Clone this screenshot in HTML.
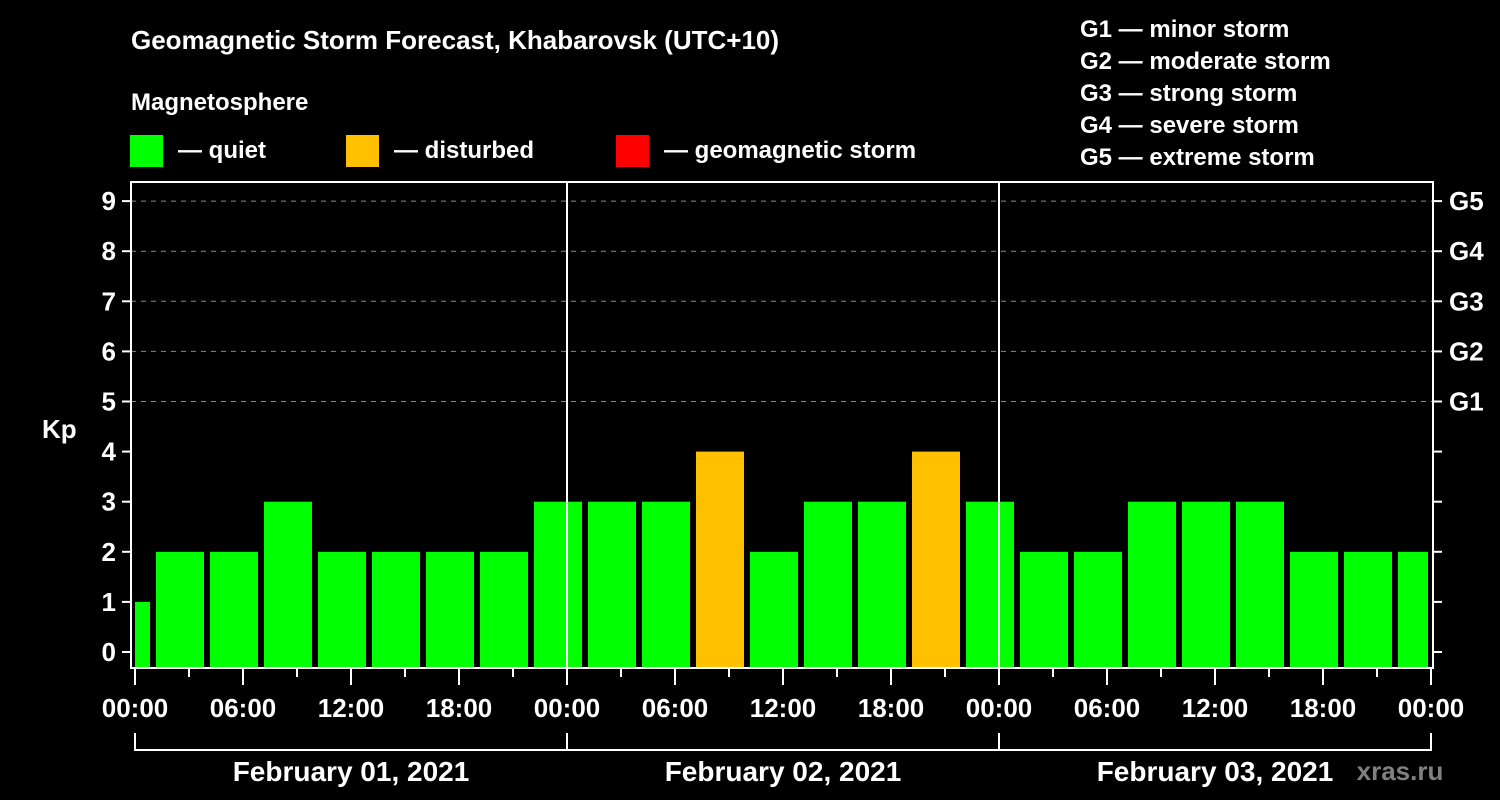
<!DOCTYPE html>
<html><head><meta charset="utf-8"><style>
html,body{margin:0;padding:0;background:#000;}
svg{display:block;font-family:"Liberation Sans",Arial,sans-serif;font-weight:bold;}
</style></head><body>
<svg id="chart" width="1500" height="800" viewBox="0 0 1500 800">
<rect width="1500" height="800" fill="#000"/>
<text x="131" y="49" fill="#fff" font-size="26">Geomagnetic Storm Forecast, Khabarovsk (UTC+10)</text>
<text x="131" y="110" fill="#fff" font-size="24">Magnetosphere</text>
<g><rect x="130" y="135" width="33" height="32" fill="#00ff00"/><text x="178" y="158" fill="#fff" font-size="24">— quiet</text></g>
<g><rect x="346" y="135" width="33" height="32" fill="#ffc000"/><text x="394" y="158" fill="#fff" font-size="24">— disturbed</text></g>
<g><rect x="616" y="135" width="33" height="32" fill="#ff0000"/><text x="664" y="158" fill="#fff" font-size="24">— geomagnetic storm</text></g>
<g fill="#fff" font-size="24">
<text x="1080" y="37">G1 — minor storm</text>
<text x="1080" y="69">G2 — moderate storm</text>
<text x="1080" y="101">G3 — strong storm</text>
<text x="1080" y="133">G4 — severe storm</text>
<text x="1080" y="165">G5 — extreme storm</text>
</g>
<text x="42" y="438" fill="#fff" font-size="26">Kp</text>
<text x="1400" y="780" fill="#808080" font-size="26" text-anchor="middle">xras.ru</text>
<g id="grid"></g><g id="bars"></g><g id="axes"></g>
</svg>
<script>
const slotStartHours=[-2,1,4,7,10,13,16,19,22,25,28,31,34,37,40,43,46,49,52,55,58,61,64,67,70];
const kpValues=[1,2,2,3,2,2,2,2,3,3,3,4,2,3,3,4,3,2,2,3,3,3,2,2,2];
const yTicks=[0,1,2,3,4,5,6,7,8,9];
const gLabels=["","","","","","G1","G2","G3","G4","G5"];
const xTickLabels=["00:00","06:00","12:00","18:00","00:00","06:00","12:00","18:00","00:00","06:00","12:00","18:00","00:00"];
const dayLabels=["February 01, 2021","February 02, 2021","February 03, 2021"];
const NS="http://www.w3.org/2000/svg";
const L=131,R=1433,T=182,B=668,X0=135,PXH=18;
const x=h=>X0+h*PXH, y=v=>652-v*50.1;
function mk(tag,attrs,parent,txt){const e=document.createElementNS(NS,tag);for(const k in attrs)e.setAttribute(k,attrs[k]);if(txt!=null)e.textContent=txt;document.getElementById(parent).appendChild(e);return e;}
yTicks.forEach((v,i)=>{
 if(v>=5){const g=mk('line',{x1:L,x2:R,y1:y(v),y2:y(v),stroke:'#888','stroke-dasharray':'5,5','stroke-width':1},'grid');
 
 }
 const t1=mk('line',{x1:122,x2:L,y1:y(v),y2:y(v),stroke:'#fff','stroke-width':2},'axes');
 
 
 const t2=mk('line',{x1:R,x2:1442,y1:y(v),y2:y(v),stroke:'#fff','stroke-width':2},'axes');
 
 
 const lb=mk('text',{x:116,y:y(v)+9,fill:'#fff','font-size':26,'text-anchor':'end'},'axes',String(v));
 
 
 if(gLabels[i]){const g2=mk('text',{x:1449,y:y(v)+9,fill:'#fff','font-size':26},'axes',gLabels[i]);
 
 }
});
kpValues.forEach((v,i)=>{
 let a=Math.max(x(slotStartHours[i])+3,L+4), b=Math.min(x(slotStartHours[i]+3)-3,R-5);
 const col=v>=5?'#ff0000':(v>=4?'#ffc000':'#00ff00');
 const r=mk('rect',{x:a,y:y(v),width:b-a,height:B-y(v),fill:col},'bars');
 
 
});
[1,2].forEach(d=>{const l=mk('line',{x1:x(d*24),x2:x(d*24),y1:T,y2:B,stroke:'#fff','stroke-width':2},'axes');
 
 });
const fr=mk('rect',{x:L,y:T,width:R-L,height:B-T,fill:'none',stroke:'#fff','stroke-width':2},'axes');


for(let h=0;h<=72;h+=3){const long=h%6===0;
 const t=mk('line',{x1:x(h),x2:x(h),y1:B,y2:long?685:677,stroke:'#fff','stroke-width':2},'axes');
 
 }
xTickLabels.forEach((s,i)=>{const t=mk('text',{x:x(i*6),y:717,fill:'#fff','font-size':26,'text-anchor':'middle'},'axes',s);
 
 });
const br=mk('path',{d:`M${x(0)},733V750H${x(72)}V733M${x(24)},733V750M${x(48)},733V750`,fill:'none',stroke:'#fff','stroke-width':2},'axes');


dayLabels.forEach((s,i)=>{const t=mk('text',{x:x(i*24+12),y:781,fill:'#fff','font-size':28,'text-anchor':'middle'},'axes',s);
 
 });
</script>
</body></html>
